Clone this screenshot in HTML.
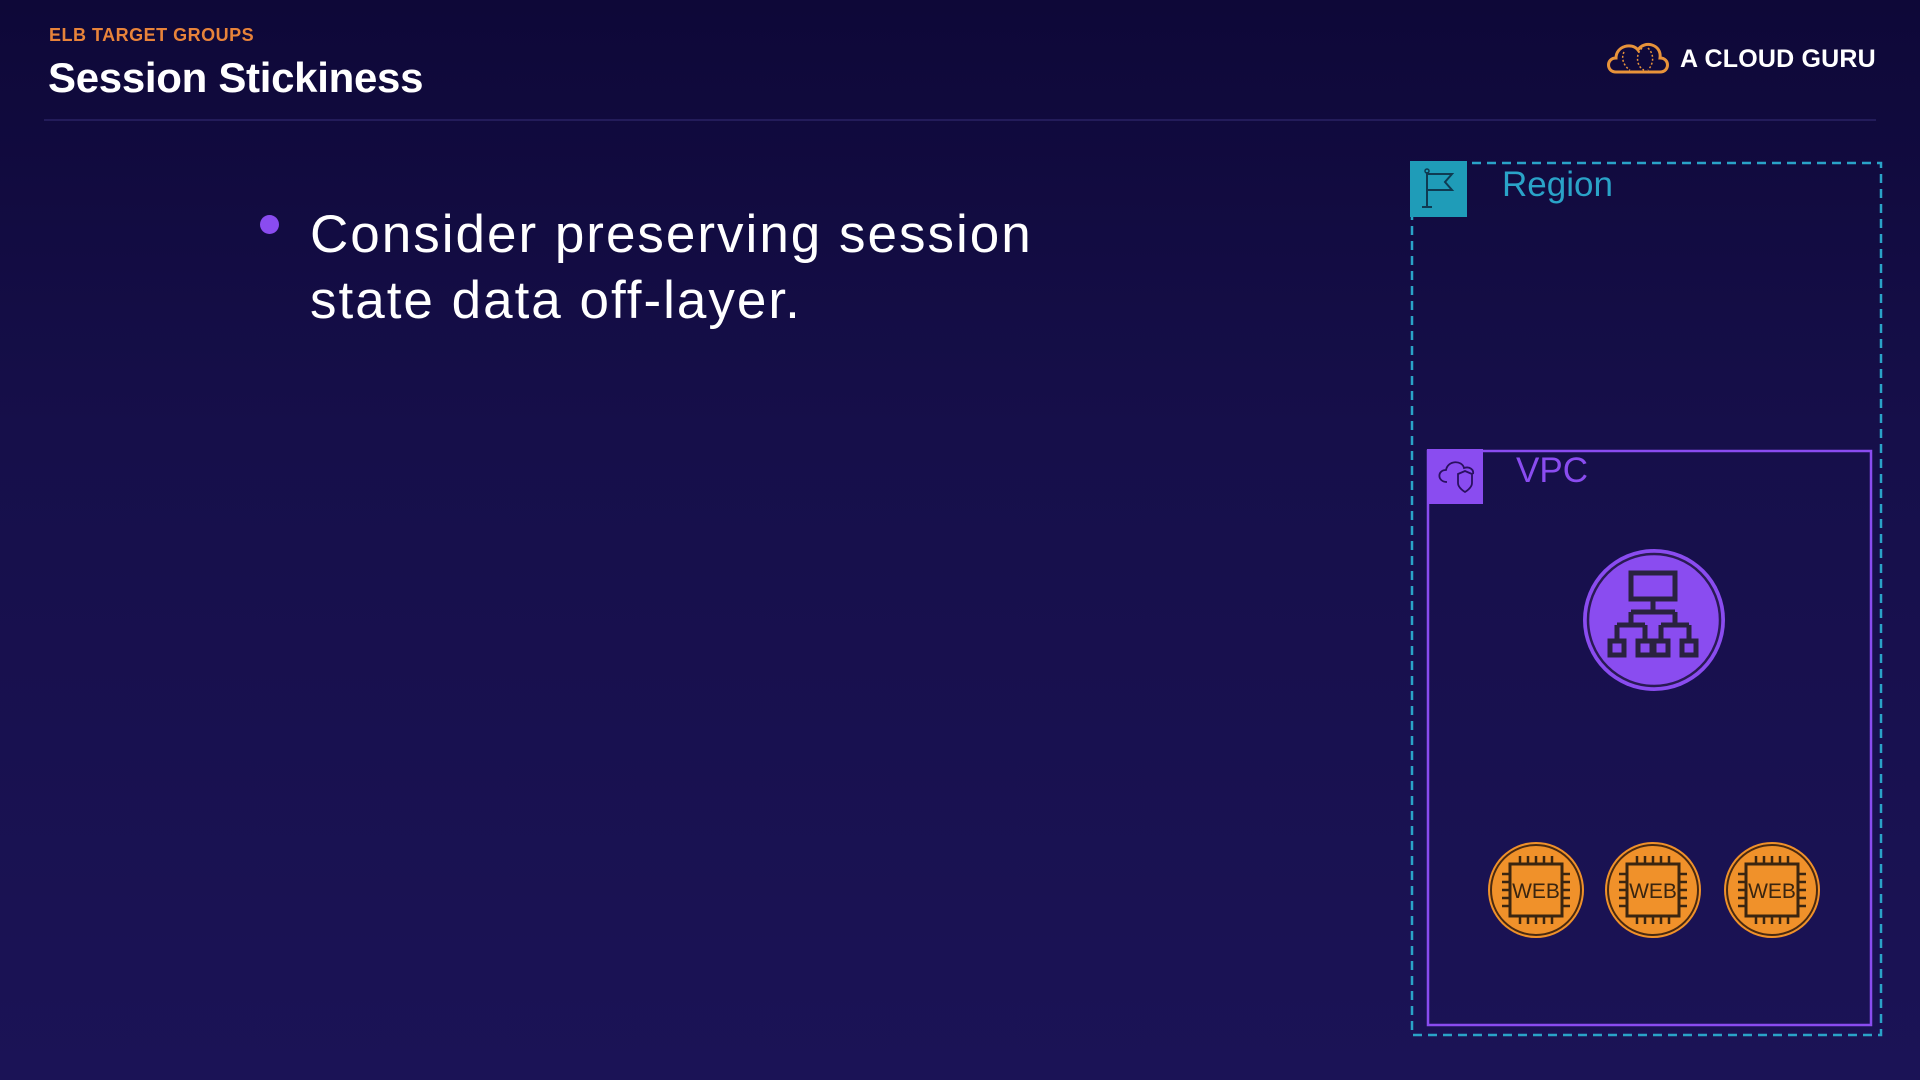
<!DOCTYPE html>
<html><head><meta charset="utf-8"><style>
html,body{margin:0;padding:0;width:1920px;height:1080px;overflow:hidden;}
body{background:linear-gradient(180deg,#0e0838 0%,#160f4a 40%,#1b1356 100%);font-family:"Liberation Sans",sans-serif;position:relative;}
.abs{position:absolute;}
</style></head><body>
<div class="abs" style="left:49px;top:25px;font-size:18px;font-weight:bold;color:#e8833a;letter-spacing:0.5px;">ELB TARGET GROUPS</div>
<div class="abs" style="left:48px;top:54px;font-size:42px;font-weight:bold;color:#fff;letter-spacing:-0.3px;">Session Stickiness</div>
<div class="abs" style="left:44px;top:119px;width:1832px;height:2px;background:#231c5a;"></div>
<div class="abs" style="left:1604px;top:36px;">
<svg width="66" height="40" viewBox="0 0 66 40" style="position:absolute;left:0;top:0">
<path d="M12 36 C2 36 2 22 12 22 C12 10 28 6 34 14 C40 4 58 8 56 22 C66 22 66 36 56 36 Z" fill="none" stroke="#e8933a" stroke-width="3"/>
<path d="M20 16 C16 24 22 32 26 34 M38 12 C30 20 34 32 40 34 M44 12 C52 20 48 30 44 34" fill="none" stroke="#e8933a" stroke-width="1.5" stroke-dasharray="2 2"/>
</svg>
<div style="position:absolute;left:76px;top:9px;font-size:25px;font-weight:bold;color:#fff;white-space:nowrap;letter-spacing:0.2px;">A CLOUD GURU</div>
</div>
<div class="abs" style="left:260px;top:215px;width:19px;height:19px;border-radius:50%;background:#8a4cf0;"></div>
<div class="abs" style="left:310px;top:202px;font-size:53px;line-height:66px;color:#fff;letter-spacing:2px;">Consider preserving session<br>state data off-layer.</div>

<svg class="abs" style="left:0;top:0" width="1920" height="1080">
<rect x="1412" y="163" width="469" height="872" fill="none" stroke="#2aa3c8" stroke-width="2.5" stroke-dasharray="9 6"/>
<rect x="1410" y="161" width="57" height="56" fill="#1f9cb8"/>
<path d="M1427 206 L1427 172 M1427 174 L1452 174 L1445 182 L1452 190 L1427 190 M1422 207 L1432 207" fill="none" stroke="#0f3b52" stroke-width="2"/>
<circle cx="1427" cy="171" r="2" fill="none" stroke="#0f3b52" stroke-width="1.5"/>
<text x="1502" y="196" font-family="Liberation Sans,sans-serif" font-size="35" fill="#2aa3c8">Region</text>
<rect x="1428" y="451" width="443" height="574" fill="none" stroke="#8a4cf0" stroke-width="2.5"/>
<rect x="1427" y="449" width="56" height="55" fill="#8a4cf0"/>
<path d="M1447 482 C1437 482 1437 470 1446 470 C1448 460 1462 460 1464 468 C1470 466 1474 470 1473 474" fill="none" stroke="#2a1060" stroke-width="1.8"/>
<path d="M1458 474 L1465 471 L1472 474 L1472 483 C1472 488 1465 492 1465 492 C1465 492 1458 488 1458 483 Z" fill="none" stroke="#2a1060" stroke-width="1.8"/>
<text x="1516" y="482" font-family="Liberation Sans,sans-serif" font-size="35" fill="#8a4cf0">VPC</text>
<g>
<circle cx="1654" cy="620" r="71" fill="#8a4cf0"/>
<circle cx="1654" cy="620" r="66" fill="none" stroke="#2a1a55" stroke-width="2.5"/>
<g fill="none" stroke="#2a2240" stroke-width="5">
<rect x="1631" y="573" width="44" height="26"/>
<path d="M1653 599 L1653 612 M1631 612 L1675 612 M1631 612 L1631 625 M1675 612 L1675 625 M1617 625 L1645 625 M1661 625 L1689 625 M1617 625 L1617 640 M1645 625 L1645 640 M1661 625 L1661 640 M1689 625 L1689 640"/>
<rect x="1610" y="641" width="14" height="14"/><rect x="1638" y="641" width="14" height="14"/>
<rect x="1654" y="641" width="14" height="14"/><rect x="1682" y="641" width="14" height="14"/>
</g></g>
<g id="webs"></g>
</svg>
<script>
const webX=[1536,1653,1772];
const g=document.getElementById('webs');
const NS='http://www.w3.org/2000/svg';
webX.forEach((cx,i)=>{
 const grp=document.createElementNS(NS,'g');
 
 
 const cy=890;
 let s=`<circle cx="${cx}" cy="${cy}" r="48" fill="#f0912a"/><circle cx="${cx}" cy="${cy}" r="45" fill="none" stroke="#4a2a10" stroke-width="2"/>`;
 s+=`<rect x="${cx-26}" y="${cy-26}" width="52" height="52" fill="none" stroke="#3a2510" stroke-width="3"/>`;
 for(let k=0;k<5;k++){const o=-16+k*8;
  s+=`<line x1="${cx+o}" y1="${cy-34}" x2="${cx+o}" y2="${cy-26}" stroke="#3a2510" stroke-width="2.5"/>`;
  s+=`<line x1="${cx+o}" y1="${cy+26}" x2="${cx+o}" y2="${cy+34}" stroke="#3a2510" stroke-width="2.5"/>`;
  s+=`<line x1="${cx-34}" y1="${cy+o}" x2="${cx-26}" y2="${cy+o}" stroke="#3a2510" stroke-width="2.5"/>`;
  s+=`<line x1="${cx+26}" y1="${cy+o}" x2="${cx+34}" y2="${cy+o}" stroke="#3a2510" stroke-width="2.5"/>`;}
 s+=`<text x="${cx}" y="${cy+8}" text-anchor="middle" font-family="Liberation Sans,sans-serif" font-size="21" fill="#3a2510">WEB</text>`;
 grp.innerHTML=s;
 g.appendChild(grp);
});
</script>
</body></html>
